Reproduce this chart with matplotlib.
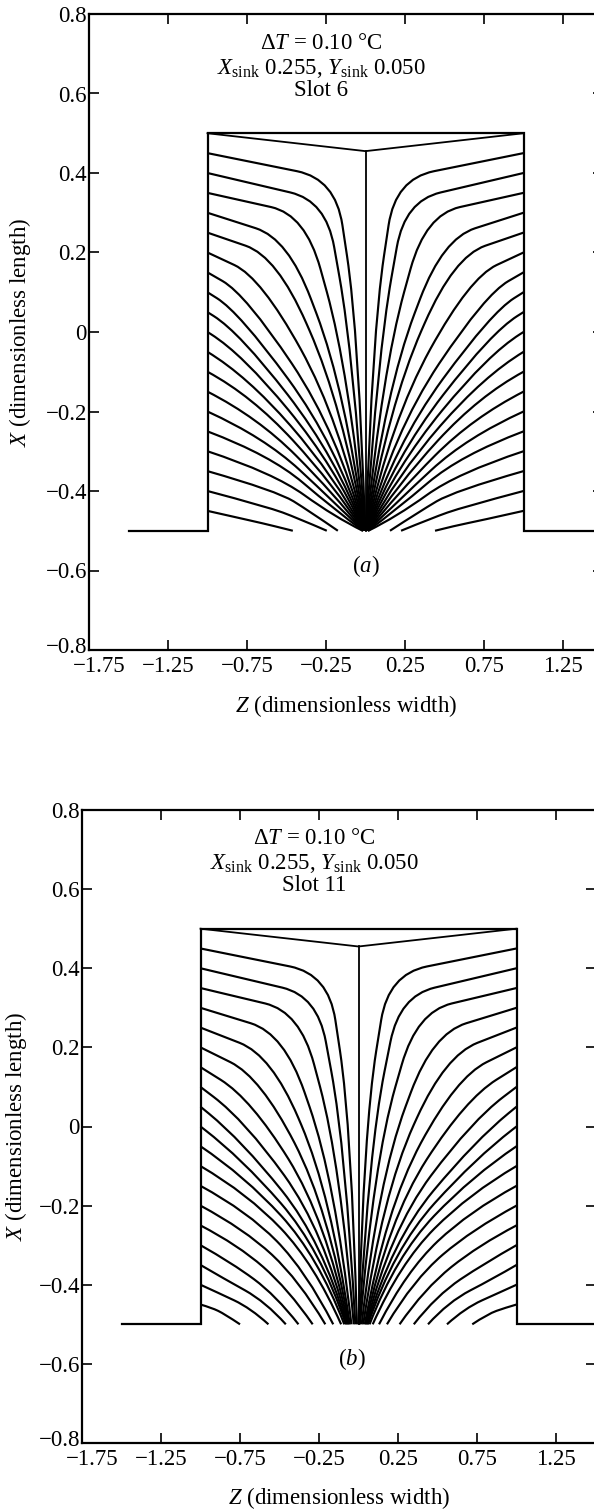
import numpy as np
import matplotlib
matplotlib.use("Agg")
import matplotlib.pyplot as plt
from matplotlib.path import Path
from matplotlib.patches import PathPatch
from matplotlib.transforms import ScaledTranslation

plt.rcParams['font.family'] = ['Liberation Serif', 'DejaVu Serif']
plt.rcParams['mathtext.fontset'] = 'custom'
plt.rcParams['mathtext.rm'] = 'Liberation Serif'
plt.rcParams['mathtext.it'] = 'Liberation Serif:italic'
plt.rcParams['mathtext.bf'] = 'Liberation Serif:bold'

# axes
z_ticks = [-1.75, -1.25, -0.75, -0.25, 0.25, 0.75, 1.25]
z_ticklabels = ['\u22121.75', '\u22121.25', '\u22120.75', '\u22120.25', '0.25', '0.75', '1.25']
x_ticks = [-0.8, -0.6, -0.4, -0.2, 0.0, 0.2, 0.4, 0.6, 0.8]
x_ticklabels = ['\u22120.8', '\u22120.6', '\u22120.4', '\u22120.2', '0', '0.2', '0.4', '0.6', '0.8']

# slot outline (Z, X)
slot_z = [-1.5, -1.0, -1.0, 1.0, 1.0, 1.6]
slot_x = [-0.5, -0.5, 0.5, 0.5, -0.5, -0.5]
vee_z = [-1.0, 0.0, 1.0]
vee_x = [0.5, 0.455, 0.5]
centre_z = [0.0, 0.0]
centre_x = [0.455, -0.5]

# field lines: start height on the wall, bend point, turn point above the sink,
# end on the slot bottom
wall_x = [0.45, 0.40, 0.35, 0.30, 0.25, 0.20, 0.15, 0.10, 0.05, 0.00,
          -0.05, -0.10, -0.15, -0.20, -0.25, -0.30, -0.35, -0.40, -0.45]

# slot 6
a_bend_x = [0.385, 0.33, 0.295, 0.235, 0.19, 0.137, 0.095, 0.05, 0.0, -0.055,
            -0.11, -0.16, -0.215, -0.265, -0.31, -0.355, -0.40, -0.44, -0.475]
a_turn_x = [-0.002, -0.057, -0.094, -0.143, -0.183, -0.223, -0.254, -0.286, -0.316, -0.339,
            -0.362, -0.385, -0.407, -0.428, -0.448, -0.465, -0.452, -0.468, -0.487]
a_left_bend_z = [-0.19, -0.25, -0.38, -0.49, -0.56, -0.66, -0.76, -0.80, -0.80, -0.78,
                 -0.75, -0.72, -0.68, -0.64, -0.60, -0.58, -0.56, -0.62, -0.72]
a_left_turn_z = [-0.044, -0.078, -0.109, -0.13, -0.148, -0.16, -0.172, -0.18, -0.184, -0.192,
                 -0.197, -0.199, -0.199, -0.197, -0.193, -0.197, -0.35, -0.43, -0.59]
a_left_end = [-0.002, -0.003, -0.004, -0.005, -0.006, -0.007, -0.008, -0.009, -0.01, -0.011,
              -0.012, -0.013, -0.014, -0.015, -0.016, -0.018, -0.175, -0.245, -0.46]
a_right_bend_z = [0.19, 0.25, 0.38, 0.49, 0.56, 0.66, 0.76, 0.80, 0.80, 0.78,
                  0.75, 0.72, 0.68, 0.64, 0.60, 0.58, 0.56, 0.62, 0.72]
a_right_turn_z = [0.044, 0.078, 0.109, 0.13, 0.148, 0.16, 0.172, 0.18, 0.184, 0.192,
                  0.197, 0.199, 0.199, 0.197, 0.193, 0.197, 0.34, 0.42, 0.57]
a_right_end = [0.002, 0.003, 0.004, 0.005, 0.006, 0.007, 0.008, 0.009, 0.01, 0.011,
               0.012, 0.013, 0.014, 0.015, 0.016, 0.018, 0.155, 0.225, 0.44]

# slot 11
b_bend_x = [0.385, 0.33, 0.29, 0.235, 0.18, 0.125, 0.07, 0.015, -0.035, -0.08,
            -0.125, -0.17, -0.215, -0.26, -0.30, -0.345, -0.385, -0.42, -0.458]
b_turn_x = [-0.001, -0.054, -0.089, -0.135, -0.171, -0.208, -0.235, -0.263, -0.29, -0.309,
            -0.327, -0.346, -0.365, -0.388, -0.41, -0.427, -0.443, -0.459, -0.474]
b_left_bend_z = [-0.19, -0.26, -0.37, -0.47, -0.55, -0.62, -0.68, -0.72, -0.74, -0.74,
                 -0.72, -0.70, -0.70, -0.72, -0.76, -0.80, -0.85, -0.89, -0.93]
b_left_turn_z = [-0.045, -0.083, -0.117, -0.150, -0.175, -0.190, -0.206, -0.218, -0.228, -0.241,
                 -0.257, -0.281, -0.333, -0.376, -0.446, -0.523, -0.588, -0.683, -0.847]
b_left_end = [-0.01, -0.02, -0.03, -0.045, -0.055, -0.06, -0.065, -0.07, -0.075, -0.08,
              -0.09, -0.11, -0.16, -0.21, -0.29, -0.38, -0.46, -0.57, -0.75]
b_right_bend_z = [0.19, 0.26, 0.37, 0.47, 0.55, 0.62, 0.68, 0.72, 0.74, 0.74,
                  0.72, 0.70, 0.70, 0.72, 0.76, 0.80, 0.85, 0.89, 0.93]
b_right_turn_z = [0.035, 0.068, 0.097, 0.125, 0.15, 0.17, 0.186, 0.198, 0.208, 0.221,
                  0.237, 0.261, 0.303, 0.346, 0.416, 0.493, 0.568, 0.673, 0.817]
b_right_end = [0.0, 0.005, 0.01, 0.02, 0.03, 0.04, 0.045, 0.05, 0.055, 0.06,
               0.07, 0.09, 0.13, 0.18, 0.26, 0.35, 0.44, 0.56, 0.72]

# how sharp the first bend is (fraction of each leg that is rounded)
bend = [0.3, 0.3, 0.35, 0.4, 0.45, 0.5, 0.6, 0.7, 0.8, 0.9,
        1.0, 1.0, 1.0, 1.0, 1.0, 1.0, 1.0, 1.0, 1.0]

labels = ['Slot 6', 'Slot 11']
panel_tags = ['($a$)', '($b$)']

FS = 16.5


def field_line(ax, z0, x0, zc, xc, zt, xt, ze, k):
    p0 = np.array([z0, x0])
    c = np.array([zc, xc])
    t = np.array([zt, xt])
    p3 = np.array([ze, -0.5])
    a = c + k * (p0 - c)
    b = c + min(k, 0.5) * (t - c)
    m = c + 0.5 * (t - c)
    codes = [Path.MOVETO, Path.LINETO, Path.CURVE3, Path.CURVE3,
             Path.LINETO, Path.CURVE3, Path.CURVE3]
    ax.add_patch(PathPatch(Path([p0, a, c, b, m, t, p3], codes), fill=False,
                           lw=1.55, ec='black', capstyle='butt'))


def draw_panel(ax, bend_x, turn_x, left, right, slot, tag, tag_z):
    ax.plot(slot_z, slot_x, c='k', lw=1.6, solid_joinstyle='miter')
    ax.plot(vee_z, vee_x, c='k', lw=1.3)
    ax.plot(centre_z, centre_x, c='k', lw=1.3)
    for i in range(len(wall_x)):
        field_line(ax, -1.0, wall_x[i], left[0][i], bend_x[i], left[1][i], turn_x[i],
                   left[2][i], bend[i])
        field_line(ax, 1.0, wall_x[i], right[0][i], bend_x[i], right[1][i], turn_x[i],
                   right[2][i], bend[i])

    ax.text(-0.28, 0.727, r'$\Delta T$ = 0.10 $\degree$C', ha='center', va='center', fontsize=FS)
    ax.text(-0.28, 0.664, r'$X_{\rm sink}$ 0.255, $Y_{\rm sink}$ 0.050', ha='center', va='center', fontsize=FS)
    ax.text(-0.28, 0.608, slot, ha='center', va='center', fontsize=FS)
    ax.text(tag_z, -0.588, tag, ha='center', va='center', fontsize=FS)

    ax.set_xlim(-1.75, 1.5)
    ax.set_ylim(-0.8, 0.8)
    ax.set_xticks(z_ticks)
    ax.set_xticklabels(z_ticklabels)
    ax.set_yticks(x_ticks)
    ax.set_yticklabels(x_ticklabels)
    ax.tick_params(direction='in', length=7, width=1.2, top=True, right=True,
                   labelsize=FS)
    ax.tick_params(axis='y', pad=1.5)
    ax.tick_params(axis='x', pad=4)
    for s in ax.spines.values():
        s.set_linewidth(1.6)
    ax.set_xlabel(r'$Z$ (dimensionless width)', fontsize=FS)
    ax.set_ylabel(r'$X$ (dimensionless length)', fontsize=FS)

    # first z label sits right of its tick, bottom x label slightly raised
    fig = ax.figure
    lab = ax.get_xticklabels()[0]
    lab.set_transform(lab.get_transform() + ScaledTranslation(0.1, 0, fig.dpi_scale_trans))
    lab = ax.get_yticklabels()[0]
    lab.set_transform(lab.get_transform() + ScaledTranslation(0, 0.05, fig.dpi_scale_trans))


fig = plt.figure(figsize=(5.94, 15.10), dpi=100)
ax1 = fig.add_axes([89 / 594, 860 / 1510, 513.5 / 594, 636 / 1510])
ax2 = fig.add_axes([82 / 594, 67 / 1510, 513.5 / 594, 633 / 1510])

draw_panel(ax1, a_bend_x, a_turn_x,
           (a_left_bend_z, a_left_turn_z, a_left_end),
           (a_right_bend_z, a_right_turn_z, a_right_end),
           labels[0], panel_tags[0], 0.0)
draw_panel(ax2, b_bend_x, b_turn_x,
           (b_left_bend_z, b_left_turn_z, b_left_end),
           (b_right_bend_z, b_right_turn_z, b_right_end),
           labels[1], panel_tags[1], -0.04)

ax1.yaxis.set_label_coords(-0.11, 0.5)
ax2.yaxis.set_label_coords(-0.103, 0.5)
ax1.xaxis.set_label_coords(0.5, -0.068)
ax2.xaxis.set_label_coords(0.5, -0.067)

fig.savefig('out.png', dpi=100)
